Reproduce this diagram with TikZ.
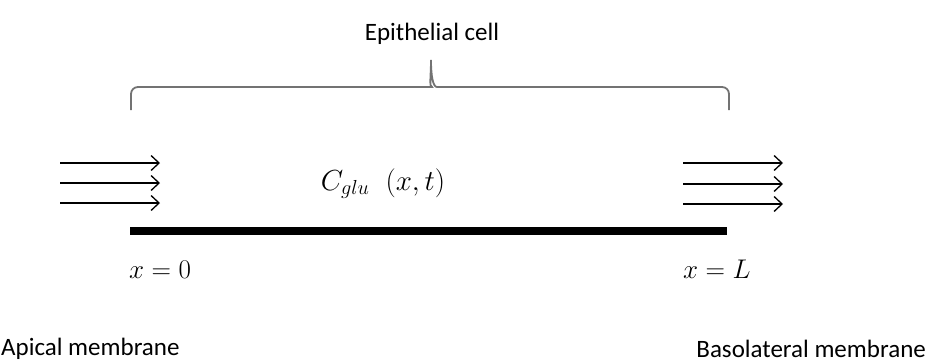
\documentclass[tikz,border=0pt]{standalone}
\usepackage{fix-cm}
\usepackage[no-math]{fontspec}
\setmainfont{Carlito}
\usetikzlibrary{arrows.meta,positioning}

\begin{document}
\begin{tikzpicture}[
  x=1pt, y=-1pt,
  font=\fontsize{25}{30}\selectfont,
  lbl/.style={inner sep=0pt, anchor=base},
  mlbl/.style={inner sep=0pt, anchor=base west, font=\fontsize{27}{32}\selectfont},
  flux/.style={-{Straight Barb[length=8pt,width=15pt]}, line width=1.3pt},
  brc/.style={line width=1.8pt, black!55},
  cellbar/.style={line width=8pt}
]
\useasboundingbox (0,0) rectangle (927,362);

% the cell between the two membranes
\coordinate (ap) at (130,231);
\coordinate (bl) at (727,231);
\draw[cellbar] (ap) -- (bl);

% brace over the cell
\draw[brc] (131,110) [rounded corners=7pt] -- (131,87) -- (425,87)
  [sharp corners] .. controls (429,87) and (431,76) .. (431,60)
  .. controls (431,76) and (433,87) .. (437,87)
  [rounded corners=7pt] -- (729,87) -- (729,110);

\node[lbl] (cell) at (432,40) {Epithelial cell};
\node[mlbl, anchor=base, font=\fontsize{29}{34}\selectfont] (conc) at (383,190)
  {$C_{glu}\;\;(x,t)$};
\node[mlbl] (x0) at (129,278) {$x=0$};
\node[mlbl] (xL) at (683,278) {$x=L$};
\node[lbl, anchor=base west] (apical) at (1,355) {Apical membrane};
\node[lbl, anchor=base east] (baso) at (926,357) {Basolateral membrane};

% glucose fluxes in and out
\foreach \y [count=\i] in {163,183,203} {
  \coordinate (inA\i) at (60,\y);
  \coordinate (inB\i) at (160,\y);
  \draw[flux] (inA\i) -- (inB\i);
}
\foreach \y [count=\i] in {163,184,204} {
  \coordinate (outA\i) at (683,\y);
  \coordinate (outB\i) at (783,\y);
  \draw[flux] (outA\i) -- (outB\i);
}
\end{tikzpicture}
\end{document}
